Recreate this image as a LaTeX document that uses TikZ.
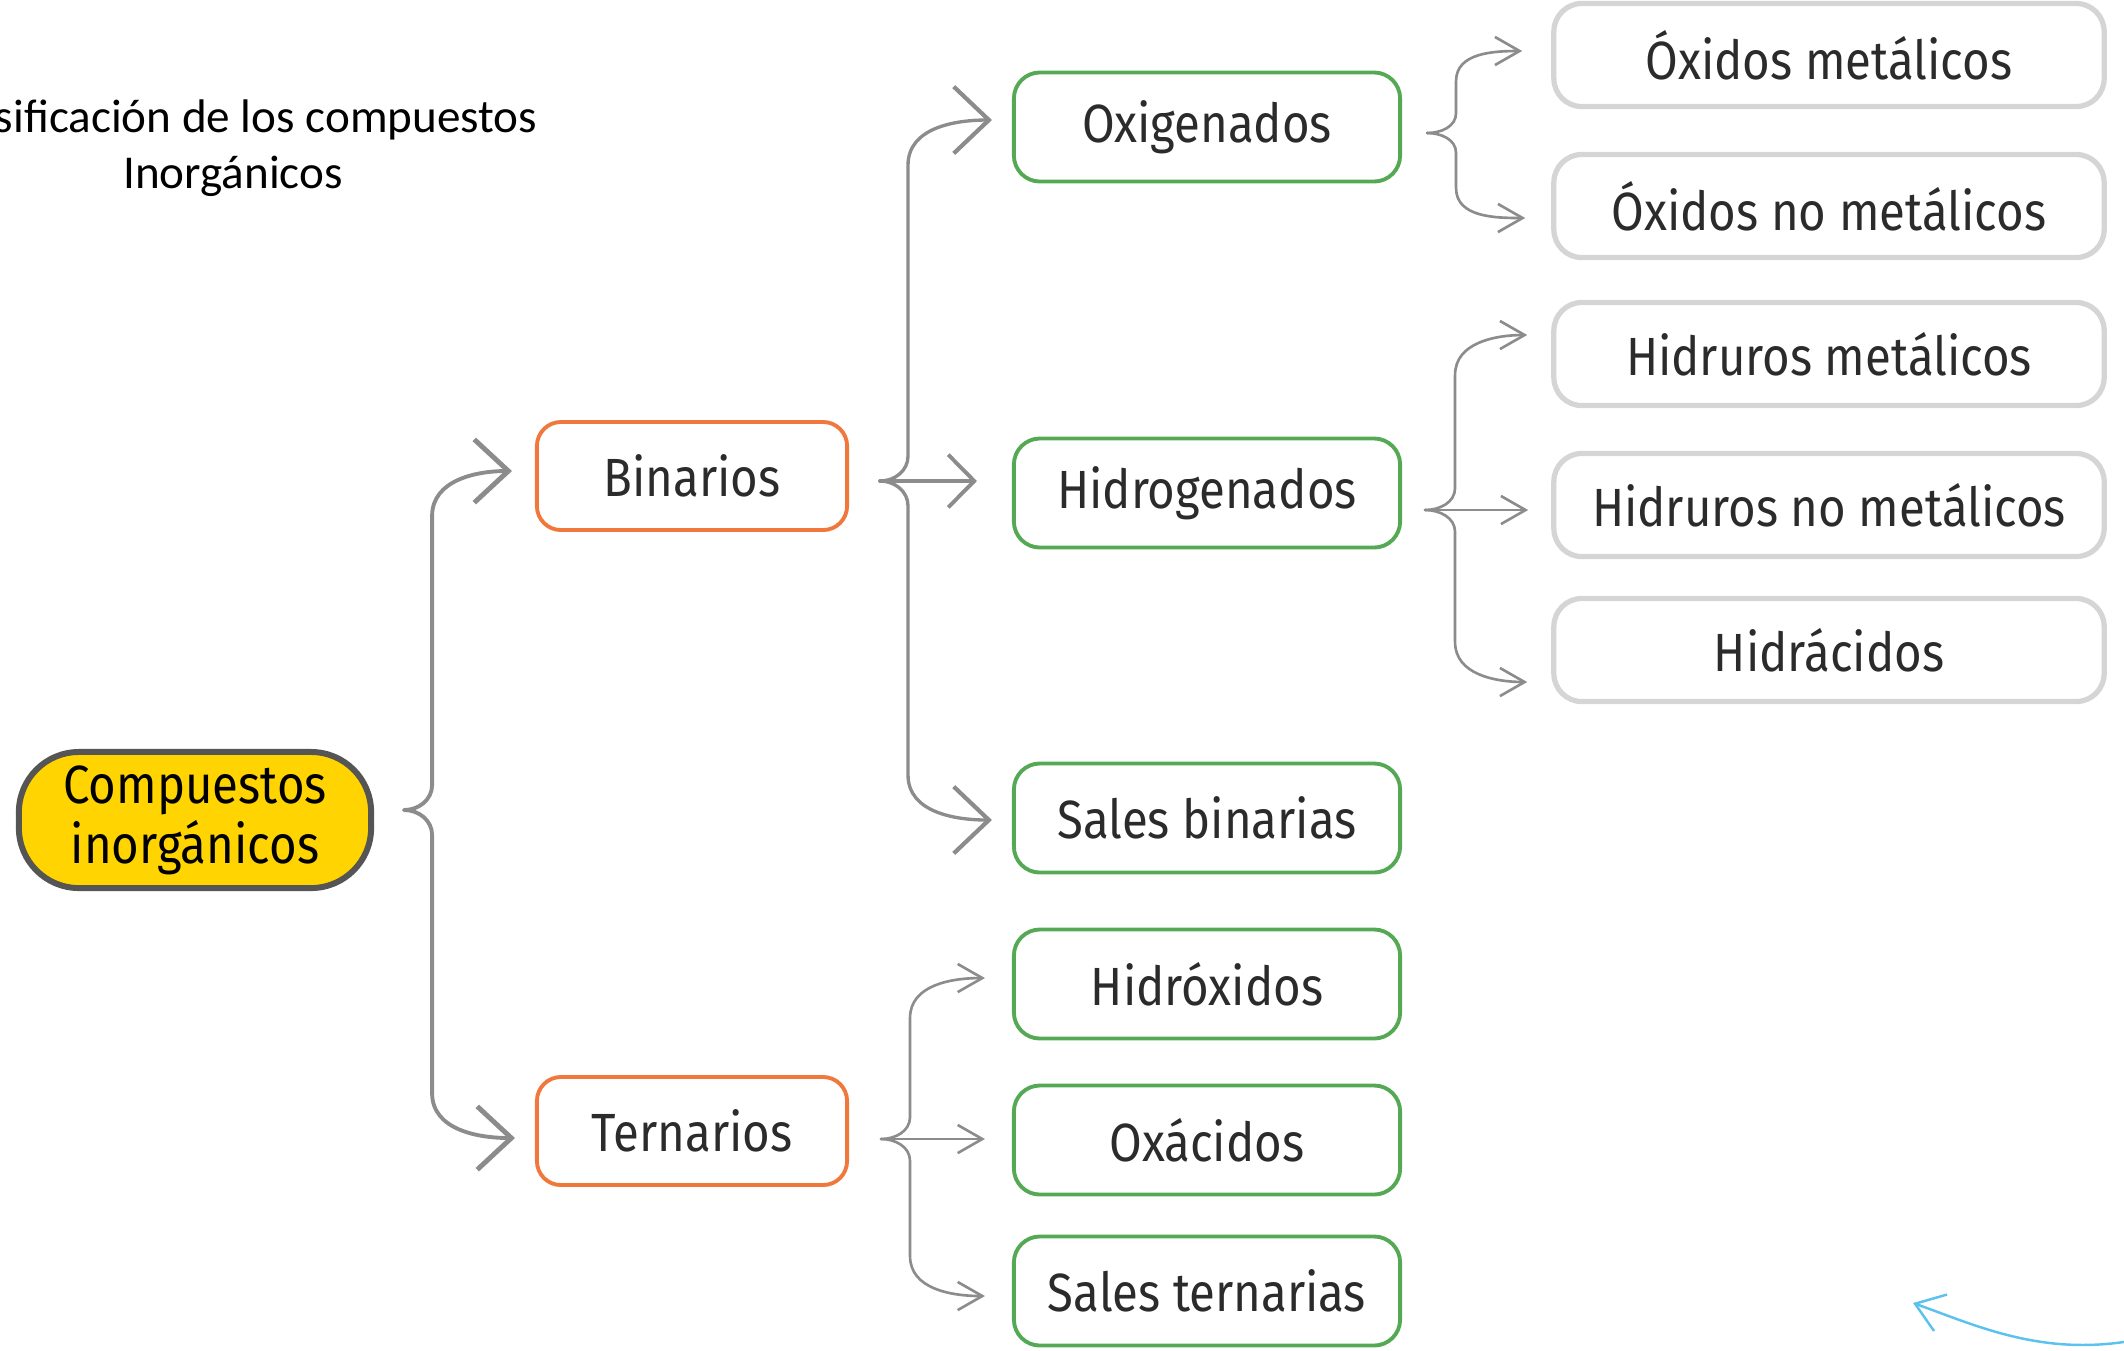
\documentclass[tikz,border=0pt]{standalone}
\usepackage{fontspec}
\setmainfont{Carlito}
\newfontfamily\hand{Fira Sans}[FakeStretch=0.88]
\usetikzlibrary{arrows.meta,calc}
\definecolor{gold}{HTML}{FFD400}
\definecolor{rootline}{HTML}{555555}
\definecolor{orangeb}{HTML}{F0783C}
\definecolor{greenb}{HTML}{55A955}
\definecolor{grayb}{HTML}{D5D5D5}
\definecolor{connc}{HTML}{8C8C8C}
\definecolor{txt}{HTML}{2B2B2B}
\definecolor{bluea}{HTML}{5BC2EE}
\begin{document}
\begin{tikzpicture}[x=0.01cm,y=0.01cm,
 lbl/.style={font=\hand\fontsize{15.3}{17}\selectfont, text=txt, align=center, inner sep=0pt},
 rootbox/.style={lbl, draw=rootline, line width=1.7pt, fill=gold, rounded corners=0.6cm, minimum width=3.52cm, minimum height=1.36cm, text=black},
 orangebox/.style={lbl, draw=orangeb, line width=1.1pt, rounded corners=0.24cm, minimum width=3.1cm, minimum height=1.08cm},
 greenbox/.style={lbl, draw=greenb, line width=1.1pt, rounded corners=0.26cm, minimum width=3.86cm, minimum height=1.09cm},
 graybox/.style={lbl, draw=grayb, line width=1.5pt, rounded corners=0.28cm, minimum width=5.5cm, minimum height=1.03cm},
 titletxt/.style={font=\fontsize{13.4}{16}\selectfont, text=black, inner sep=0pt},
 conn1/.style={draw=connc, line width=1.1pt, line cap=round, -{Straight Barb[length=9.7pt,width=18pt,line width=1.4pt]}},
 conn2/.style={draw=connc, line width=0.95pt, line cap=round, -{Straight Barb[length=10pt,width=19pt,line width=1.2pt]}},
 conn2m/.style={draw=connc, line width=1.1pt, line cap=round, -{Straight Barb[length=7.4pt,width=15pt,line width=1.1pt]}},
 conn3/.style={draw=connc, line width=0.75pt, line cap=round, -{Straight Barb[length=7pt,width=8pt,line width=0.75pt]}},
 blueconn/.style={draw=bluea, line width=0.7pt, line cap=round, -{Straight Barb[length=7.7pt,width=11pt,line width=0.7pt]}}
]
\useasboundingbox (0,0) rectangle (2124,-1350);

% title
\node[titletxt, anchor=base east] (title1) at (538,-132) {sificación de los compuestos};
\node[titletxt, anchor=base] (title2) at (233,-188) {Inorgánicos};

% nodes
\node[rootbox] (root) at (195,-820) {Compuestos\\inorgánicos};
\node[orangebox] (bin) at (692,-476) {Binarios};
\node[orangebox] (ter) at (692,-1131) {Ternarios};

\node[greenbox] (oxi) at (1207,-127) {Oxigenados};
\node[greenbox] (hid) at (1207,-493) {Hidrogenados};
\node[greenbox] (salb) at (1207,-818) {Sales binarias};
\node[greenbox] (hidx) at (1207,-984) {Hidróxidos};
\node[greenbox] (oxa) at (1207,-1140) {Oxácidos};
\node[greenbox] (salt) at (1207,-1291) {Sales ternarias};

\node[graybox] (om) at (1829,-55) {Óxidos metálicos};
\node[graybox] (onm) at (1829,-206) {Óxidos no metálicos};
\node[graybox] (hm) at (1829,-354) {Hidruros metálicos};
\node[graybox] (hnm) at (1829,-505) {Hidruros no metálicos};
\node[graybox] (hac) at (1829,-650) {Hidrácidos};

% root brace
\coordinate (rt) at ([shift={(30,10)}]root.east);
\coordinate (rv) at ([shift={(28,0)}]rt);
\coordinate (bint) at ([shift={(-23,5)}]bin.west);
\coordinate (tert) at ([shift={(-20,-7)}]ter.west);
\draw[conn1] (rt) to[out=0,in=-90] ($(rv)+(0,25)$) -- ($(rv |- bint)+(0,-45)$) to[out=90,in=180] (bint);
\draw[conn1] (rt) to[out=0,in=90] ($(rv)+(0,-25)$) -- ($(rv |- tert)+(0,45)$) to[out=-90,in=180] (tert);

% binarios brace
\coordinate (bp) at ([shift={(31,-5)}]bin.east);
\coordinate (bv) at ([shift={(28,0)}]bp);
\coordinate (oxit) at ([shift={(-20,7)}]oxi.west);
\coordinate (hidt) at ([shift={(-35,0)}]hid.west);
\coordinate (salbt) at ([shift={(-20,-2)}]salb.west);
\draw[conn2] (bp) to[out=0,in=-90] ($(bv)+(0,25)$) -- ($(bv |- oxit)+(0,-45)$) to[out=90,in=180] (oxit);
\draw[conn2m] (bp) -- (bp -| hidt);
\draw[conn2] (bp) to[out=0,in=90] ($(bv)+(0,-25)$) -- ($(bv |- salbt)+(0,45)$) to[out=-90,in=180] (salbt);

% ternarios brace
\coordinate (tp) at ([shift={(32,-8)}]ter.east);
\coordinate (tv) at ([shift={(29,0)}]tp);
\coordinate (hidxt) at ([shift={(-27,6)}]hidx.west);
\coordinate (oxat) at ([shift={(-27,0)}]oxa.west);
\coordinate (saltt) at ([shift={(-27,-5)}]salt.west);
\draw[conn3] (tp) to[out=0,in=-90] ($(tv)+(0,22)$) -- ($(tv |- hidxt)+(0,-40)$) to[out=90,in=180] (hidxt);
\draw[conn3] (tp) -- (tp -| oxat);
\draw[conn3] (tp) to[out=0,in=90] ($(tv)+(0,-22)$) -- ($(tv |- saltt)+(0,40)$) to[out=-90,in=180] (saltt);

% oxigenados brace
\coordinate (op) at ([shift={(25,-6)}]oxi.east);
\coordinate (ov) at ([shift={(29,0)}]op);
\coordinate (omt) at ([shift={(-29,4)}]om.west);
\coordinate (onmt) at ([shift={(-26,-12)}]onm.west);
\draw[conn3] (op) to[out=0,in=-90] ($(ov)+(0,20)$) -- ($(ov |- omt)+(0,-30)$) to[out=90,in=180] (omt);
\draw[conn3] (op) to[out=0,in=90] ($(ov)+(0,-20)$) -- ($(ov |- onmt)+(0,30)$) to[out=-90,in=180] (onmt);

% hidrogenados brace
\coordinate (hp) at ([shift={(23,-17)}]hid.east);
\coordinate (hv) at ([shift={(30,0)}]hp);
\coordinate (hmt) at ([shift={(-24,19)}]hm.west);
\coordinate (hnmt) at ([shift={(-23,0)}]hnm.west);
\coordinate (hact) at ([shift={(-24,-32)}]hac.west);
\draw[conn3] (hp) to[out=0,in=-90] ($(hv)+(0,22)$) -- ($(hv |- hmt)+(0,-40)$) to[out=90,in=180] (hmt);
\draw[conn3] (hp) -- (hp -| hnmt);
\draw[conn3] (hp) to[out=0,in=90] ($(hv)+(0,-22)$) -- ($(hv |- hact)+(0,40)$) to[out=-90,in=180] (hact);

% blue arrow
\coordinate (blues) at (2130,-1341);
\coordinate (bluet) at (1913,-1303);
\draw[blueconn] (blues) .. controls (2040,-1356) and (1975,-1325) .. (bluet);
\end{tikzpicture}
\end{document}
